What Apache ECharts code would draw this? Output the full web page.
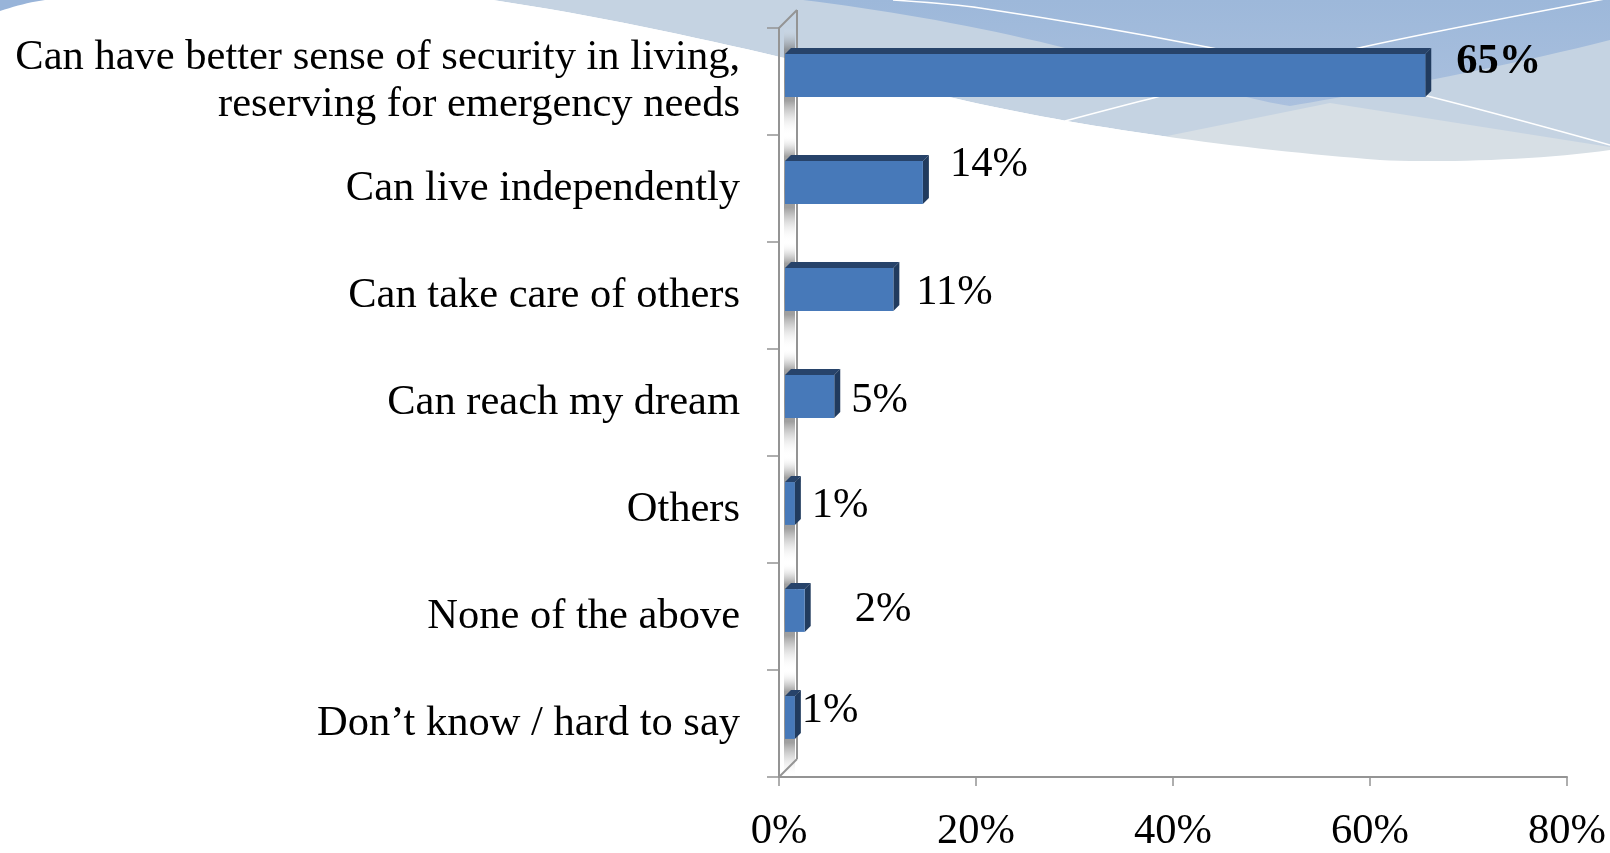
<!DOCTYPE html>
<html>
<head>
<meta charset="utf-8">
<title>Benefits of saving</title>
<script src="https://cdn.jsdelivr.net/npm/echarts@6/dist/echarts.min.js"></script>
<style>
  html, body { margin: 0; padding: 0; background: #ffffff; }
  #chart { width: 1610px; height: 853px; }
</style>
</head>
<body>
<div id="chart"></div>
<script>
// ---- data ----
const categories = [
  'Can have better sense of security in living,\nreserving for emergency needs',
  'Can live independently',
  'Can take care of others',
  'Can reach my dream',
  'Others',
  'None of the above',
  'Don\u2019t know / hard to say'
];
const shares = [65, 14, 11, 5, 1, 2, 1];   // percent of respondents
const axisMin = 0;
const axisMax = 80;
const axisStep = 20;

// ---- styling ----
const SERIF = '"Liberation Serif", "Times New Roman", serif';
const FONT_PX = 42.5;
const DEPTH = 6;        // 3-D bar depth (px)
const WALL = 18;        // thickness of the side wall (px)
const FRONT = '#4779b9';
const TOP = '#27436a';
const SIDE = '#213b5e';
const AXIS_GREY = '#949494';
// hand placed data-label nudges [dx, dy] relative to the bar end
const labelNudge = [[13, -13], [9, -18], [5, 3], [-1, 4], [-1, 2], [32, -1], [-11, -7]];
const boldLabel = [true, false, false, false, false, false, false];

const chart = echarts.init(document.getElementById('chart'), null, { renderer: 'canvas' });

function renderBar(params, api) {
  const i = params.dataIndex;
  const n = params.dataInsideLength;
  const val = api.value(0);
  const zero = api.coord([0, i]);
  const tip = api.coord([val, i]);
  const band = api.size([0, 1])[1];
  const h = band * 0.4;
  const cy = zero[1] - DEPTH;
  const left = zero[0] + DEPTH;
  const right = tip[0] + DEPTH;
  const top = cy - h / 2;
  const bot = cy + h / 2;
  const bandTop = zero[1] - band / 2;
  const bandBot = zero[1] + band / 2;
  const wx = zero[0] + WALL;
  const children = [];

  // soft shading on the wall around each bar
  children.push({
    type: 'rect',
    shape: { x: zero[0] + 5, y: bandTop, width: WALL - 7, height: band },
    style: {
      fill: new echarts.graphic.LinearGradient(0, 0, 0, 1, [
        { offset: 0, color: 'rgba(255,255,255,0)' },
        { offset: 0.1, color: 'rgba(150,150,150,0.25)' },
        { offset: 0.2, color: 'rgba(120,120,120,0.7)' },
        { offset: 0.5, color: 'rgba(120,120,120,0.8)' },
        { offset: 0.68, color: 'rgba(120,120,120,0.7)' },
        { offset: 0.85, color: 'rgba(170,170,170,0.25)' },
        { offset: 1, color: 'rgba(255,255,255,0)' }
      ])
    }
  });
  // back edge of the wall
  children.push({
    type: 'line',
    shape: { x1: wx, y1: bandTop - WALL, x2: wx, y2: bandBot - WALL },
    style: { stroke: AXIS_GREY, lineWidth: 2 }
  });
  if (i === 0) {
    children.push({
      type: 'line',
      shape: { x1: zero[0], y1: bandTop, x2: wx, y2: bandTop - WALL },
      style: { stroke: AXIS_GREY, lineWidth: 2 }
    });
  }
  if (i === n - 1) {
    children.push({
      type: 'line',
      shape: { x1: zero[0], y1: bandBot, x2: wx, y2: bandBot - WALL },
      style: { stroke: AXIS_GREY, lineWidth: 2 }
    });
  }
  // top face
  children.push({
    type: 'polygon',
    shape: { points: [[left, top], [left + DEPTH, top - DEPTH], [right + DEPTH, top - DEPTH], [right, top]] },
    style: { fill: TOP }
  });
  // side face
  children.push({
    type: 'polygon',
    shape: { points: [[right, top], [right + DEPTH, top - DEPTH], [right + DEPTH, bot - DEPTH], [right, bot]] },
    style: { fill: SIDE }
  });
  // front face
  children.push({
    type: 'rect',
    shape: { x: left, y: top, width: Math.max(right - left, 0), height: h },
    style: { fill: FRONT }
  });
  // value label
  const nudge = labelNudge[i] || [0, 0];
  children.push({
    type: 'text',
    style: {
      text: val + '%',
      x: right + DEPTH + 12 + nudge[0],
      y: cy + nudge[1],
      align: 'left',
      verticalAlign: 'middle',
      fill: '#000000',
      font: (boldLabel[i] ? 'bold ' : '') + FONT_PX + 'px ' + SERIF
    }
  });
  return { type: 'group', children: children };
}

// ---- decorative header waves (sampled cubic curves) ----
function cubic(p0, c1, c2, p1, steps) {
  const pts = [];
  for (let k = 0; k <= steps; k++) {
    const t = k / steps, u = 1 - t;
    pts.push([
      u * u * u * p0[0] + 3 * u * u * t * c1[0] + 3 * u * t * t * c2[0] + t * t * t * p1[0],
      u * u * u * p0[1] + 3 * u * u * t * c1[1] + 3 * u * t * t * c2[1] + t * t * t * p1[1]
    ]);
  }
  return pts;
}
// lower edge of the wave band, left to right
const waveEdge = [].concat(
  cubic([493, 0], [680, 28], [870, 80], [980, 104], 30),
  cubic([980, 104], [1100, 130], [1250, 150], [1380, 160], 30),
  cubic([1380, 160], [1440, 163], [1540, 160], [1610, 150], 20)
);
const waveBase = [[1610, 0], [493, 0]].concat(waveEdge);
const waveCover = waveEdge.concat([[1610, 330], [420, 330], [420, 0]]);
const waveBlue = [[1610, 0], [803, 0]].concat(
  cubic([803, 0], [900, 12], [1000, 30], [1100, 57], 20),
  cubic([1100, 57], [1180, 80], [1250, 100], [1290, 106], 20),
  cubic([1290, 106], [1350, 96], [1500, 68], [1610, 40], 20)
);
const wavePale = [[1167, 136], [1330, 103], [1610, 147], [1610, 260], [1100, 260]];
const cornerTab = [[0, 0], [45, 0]].concat(cubic([45, 0], [30, 2], [15, 6], [0, 11], 10));

const option = {
  backgroundColor: '#ffffff',
  animation: false,
  graphic: {
    elements: [
      { type: 'polygon', z: -10, silent: true, shape: { points: waveBase }, style: { fill: '#c5d3e2' } },
      {
        type: 'polygon', z: -10, silent: true, shape: { points: waveBlue },
        style: {
          fill: new echarts.graphic.LinearGradient(0, 0, 0, 1, [
            { offset: 0, color: '#9db8da' },
            { offset: 1, color: '#aac0de' }
          ])
        }
      },
      { type: 'polygon', z: -10, silent: true, shape: { points: wavePale }, style: { fill: '#d7dfe5' } },
      { type: 'polyline', z: -10, silent: true, shape: { points: [[893, 0], [980, 8], [1207, 47], [1423, 95], [1610, 145]], smooth: 0.3 }, style: { stroke: '#ffffff', lineWidth: 1.5, fill: null } },
      { type: 'polyline', z: -10, silent: true, shape: { points: [[1065, 121], [1157, 97], [1363, 47], [1610, -2]], smooth: 0.3 }, style: { stroke: '#ffffff', lineWidth: 1.5, fill: null } },
      { type: 'polygon', z: -10, silent: true, shape: { points: waveCover }, style: { fill: '#ffffff' } },
      { type: 'polygon', z: -10, silent: true, shape: { points: cornerTab }, style: { fill: '#98b4d9' } }
    ]
  },
  grid: { left: 779, right: 43, top: 28, bottom: 69, containLabel: false },
  xAxis: {
    type: 'value',
    min: axisMin,
    max: axisMax,
    interval: axisStep,
    axisLine: { show: true, lineStyle: { color: AXIS_GREY, width: 2 } },
    axisTick: { show: true, length: 9, lineStyle: { color: AXIS_GREY, width: 1.5 } },
    splitLine: { show: false },
    axisLabel: {
      formatter: '{value}%',
      color: '#000000',
      fontFamily: SERIF,
      fontSize: FONT_PX,
      margin: 33
    }
  },
  yAxis: {
    type: 'category',
    data: categories,
    inverse: true,
    axisLine: { show: true, lineStyle: { color: AXIS_GREY, width: 2 } },
    axisTick: { show: true, length: 12, lineStyle: { color: AXIS_GREY, width: 1.5 } },
    splitLine: { show: false },
    axisLabel: {
      color: '#000000',
      fontFamily: SERIF,
      fontSize: FONT_PX,
      lineHeight: 47,
      margin: 39,
      align: 'right'
    }
  },
  series: [{
    type: 'custom',
    clip: false,
    renderItem: renderBar,
    encode: { x: 0, y: 1 },
    data: shares.map((v, i) => [v, i])
  }]
};

chart.setOption(option);
</script>
</body>
</html>
